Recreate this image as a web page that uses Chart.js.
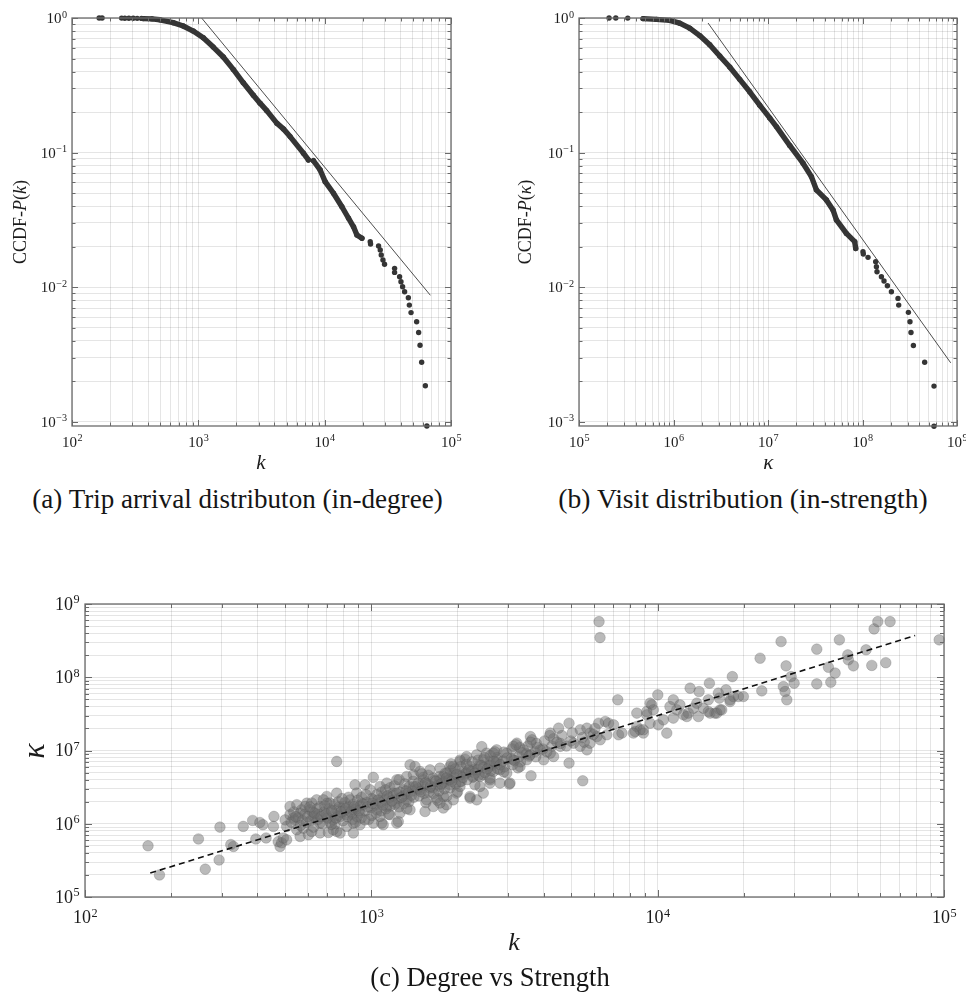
<!DOCTYPE html>
<html>
<head>
<meta charset="utf-8">
<title>Degree and strength distributions</title>
<script src="https://cdn.jsdelivr.net/npm/chart.js@4.4.0/dist/chart.umd.min.js"></script>
<style>
  body { margin: 0; background: #fff; width: 966px; height: 992px; position: relative; overflow: hidden; }
  canvas { position: absolute; }
  .caption {
    position: absolute; white-space: nowrap; color: #151515;
    font-family: "Liberation Serif", "DejaVu Serif", serif; font-size: 22px;
    transform: translate(-50%, -50%);
  }
</style>
</head>
<body>
<canvas id="inDegree" width="480" height="480" style="left:0;top:0"></canvas>
<canvas id="inStrength" width="486" height="480" style="left:480px;top:0"></canvas>
<canvas id="degStrength" width="966" height="432" style="left:0;top:560px"></canvas>

<div class="caption" data-fit="411" style="left:237.5px;top:499px">(a) Trip arrival distributon (in-degree)</div>
<div class="caption" data-fit="370" style="left:743px;top:499px">(b) Visit distribution (in-strength)</div>
<div class="caption" data-fit="240" style="left:490px;top:977px">(c) Degree vs Strength</div>

<script>
const SERIF = '"Liberation Serif", "DejaVu Serif", serif';
const INK = '#1c1c1c';
const DOT = '#353535';

// (a) CCDF of in-degree k  -- [k, P(k)]
const inDegreeTop = [[164, 1], [173, 0.999], [247, 0.998], [262, 0.997], [282, 0.996], [305, 0.995], [328, 0.994], [355, 0.993]];
const inDegreeBody = [[366, 0.99], [430, 0.985], [496, 0.97], [632, 0.923], [759, 0.872], [911, 0.80], [1094, 0.714],
  [1313, 0.608], [1576, 0.513], [1891, 0.415], [2270, 0.330], [2725, 0.267], [3079, 0.233], [3480, 0.205],
  [4178, 0.1655], [4713, 0.150], [5326, 0.1315], [6789, 0.099], [7438, 0.0882]];
const inDegreeBody2 = [[8151, 0.087], [9210, 0.0743], [10090, 0.0608], [11744, 0.0499], [13690, 0.0396],
  [15450, 0.0325], [16920, 0.0281], [18000, 0.0244], [19720, 0.0231]];
const inDegreeTail = [[22950, 0.02177], [23080, 0.02094], [26710, 0.02021], [27540, 0.01888], [28050, 0.01733],
  [28940, 0.01591], [29790, 0.01479], [35770, 0.0138], [35770, 0.01288], [39180, 0.01195], [40180, 0.01097],
  [41390, 0.01006], [42940, 0.00924], [45960, 0.00834], [46800, 0.00736], [48270, 0.00647], [53460, 0.00553],
  [55450, 0.00461], [56880, 0.0037], [58590, 0.00277], [62660, 0.00185], [64420, 0.00093]];
const inDegreeFit = [[1062, 1], [68700, 0.0087]];

// (b) CCDF of in-strength kappa  -- [kappa, P(kappa)]
const inStrengthTop = [[2.08e5, 1], [2.45e5, 0.999], [3.28e5, 0.998]];
const inStrengthBody = [[4.76e5, 0.99], [6.59e5, 0.976], [9.12e5, 0.96], [1.163e6, 0.915], [1.484e6, 0.84],
  [1.894e6, 0.74], [2.416e6, 0.632], [3.083e6, 0.522], [3.933e6, 0.432], [5.018e6, 0.35], [6.402e6, 0.283],
  [8.17e6, 0.225], [1.042e7, 0.181], [1.227e7, 0.156], [1.697e7, 0.113], [2.347e7, 0.0834], [2.88e7, 0.0663],
  [3.251e7, 0.0528], [4.15e7, 0.0445], [4.874e7, 0.0375], [5.294e7, 0.0316], [6.754e7, 0.0251],
  [8.27e7, 0.0218], [8.47e7, 0.0194]];
const inStrengthTail = [[1.012e8, 0.01834], [1.02e8, 0.01764], [1.144e8, 0.01666], [1.379e8, 0.01545],
  [1.403e8, 0.01418], [1.424e8, 0.01302], [1.585e8, 0.01195], [1.689e8, 0.0111], [1.834e8, 0.01024],
  [2.022e8, 0.00924], [2.375e8, 0.00825], [2.416e8, 0.00736], [3.059e8, 0.0065], [3.18e8, 0.00553],
  [3.26e8, 0.00461], [3.456e8, 0.00369], [4.55e8, 0.00277], [5.71e8, 0.00184], [5.71e8, 0.000925]];
const inStrengthFit = [[2.32e6, 0.918], [8.58e8, 0.00274]];

// (c) degree k vs strength kappa, one entry per station
const degreeStrength = [
  [166, 5.0e5], [182, 2.0e5], [249, 6.2e5], [263, 2.4e5], [296, 9.0e5], [294, 3.2e5], [323, 5.2e5], [330, 4.9e5],
  [357, 9.2e5], [385, 1.11e6], [408, 1.04e6], [418, 9.7e5], [395, 6.2e5], [429, 6.4e5], [457, 1.26e6], [455, 9.2e5],
  [473, 5.7e5], [480, 4.9e5], [486, 5.5e5], [493, 6.4e5], [506, 9.2e5], [520, 1.72e6], [549, 1.82e6], [534, 1.2e6],
  [571, 1.55e6], [595, 1.91e6], [564, 6.7e5], [603, 7.1e5], [644, 2.12e6], [662, 1.72e6], [627, 1.26e6],
  [662, 1.02e6], [662, 7.5e5], [708, 7.6e5], [757, 7.85e5], [699, 2.36e6], [757, 2.62e6], [757, 7.1e6],
  [865, 7.5e5], [877, 3.4e6], [950, 3.4e6], [1016, 4.3e6], [1087, 1.02e6], [1242, 1.07e6], [1365, 6.4e6],
  [1421, 6.05e6], [1540, 1.47e6], [1784, 1.64e6], [2212, 2.24e6], [2334, 2.12e6], [2460, 2.62e6],
  [2430, 1.13e7], [2125, 7.6e6],
  [500, 1.13e6], [520, 1.33e6], [541, 1.13e6], [564, 1.40e6], [587, 1.72e6], [611, 1.55e6], [636, 1.26e6],
  [619, 1.92e6], [549, 8.3e5], [579, 8.7e5], [619, 7.85e5], [506, 6.05e5],
  [680, 2.12e6], [717, 1.92e6], [757, 1.55e6], [798, 1.72e6], [843, 2.12e6], [889, 2.62e6], [926, 1.92e6],
  [698, 1.26e6], [736, 1.13e6], [778, 1.26e6], [820, 1.33e6], [865, 1.55e6], [913, 1.40e6], [736, 8.3e5],
  [778, 7.46e5], [820, 9.2e5], [865, 1.02e6], [913, 9.7e5], [950, 1.13e6], [725, 9.8e5],
  [990, 2.91e6], [1072, 3.23e6], [1132, 3.59e6], [1227, 3.98e6], [1329, 4.42e6], [1402, 4.66e6], [1016, 2.12e6],
  [1100, 2.36e6], [1191, 2.62e6], [1293, 2.91e6], [1402, 3.23e6], [1044, 1.55e6], [1132, 1.72e6], [1227, 1.92e6],
  [1329, 2.12e6], [1072, 1.26e6], [1161, 1.33e6], [1259, 1.40e6], [1365, 1.55e6], [1100, 9.7e5], [1227, 1.02e6],
  [1016, 1.02e6],
  [1479, 5.17e6], [1603, 5.45e6], [1737, 5.75e6], [1883, 6.05e6], [2040, 7.08e6], [1519, 3.98e6], [1646, 4.2e6],
  [1784, 4.42e6], [1934, 4.66e6], [2096, 5.17e6], [1479, 2.91e6], [1603, 3.07e6], [1737, 3.23e6], [1883, 3.4e6],
  [2040, 3.78e6], [1561, 2.12e6], [1691, 2.24e6], [1833, 2.36e6], [1986, 2.62e6], [1646, 1.72e6], [1833, 1.82e6],
  [2152, 8.28e6], [2333, 8.73e6], [2527, 9.2e6], [2739, 1.02e7], [2211, 6.05e6], [2395, 6.38e6], [2596, 7.08e6],
  [2270, 4.42e6], [2460, 4.66e6], [2667, 5.17e6], [2395, 3.23e6], [2596, 3.59e6],
  [3593, 1.55e7], [3642, 1.40e7], [4217, 1.73e7], [4509, 2.02e7], [5364, 1.92e7], [5662, 2.02e7], [5814, 1.73e7],
  [6136, 1.55e7], [6300, 1.40e7], [6561, 2.49e7], [6737, 2.36e7], [7015, 2.24e7], [7302, 1.64e7], [7504, 1.73e7],
  [5085, 1.26e7], [5364, 1.14e7], [5662, 1.02e7], [4571, 1.14e7], [4217, 9.2e6], [3890, 1.02e7], [3996, 7.46e6],
  [4329, 8.28e6], [3221, 1.26e7], [3397, 1.02e7], [2972, 9.2e6], [3133, 7.46e6], [3490, 7.46e6], [3306, 6.05e6],
  [3584, 8.73e6], [2667, 9.2e6], [2740, 7.46e6], [2460, 7.46e6], [2596, 6.05e6], [2814, 5.46e6], [2972, 4.92e6],
  [3050, 3.59e6], [2814, 3.59e6], [2596, 3.98e6], [2395, 4.42e6], [2270, 5.45e6], [2211, 2.36e6], [2040, 7.42e6],
  [1933, 6.05e6], [1833, 4.92e6], [1737, 3.98e6], [1883, 3.98e6], [2040, 3.23e6], [2152, 4.92e6], [1933, 2.12e6],
  [1784, 2.36e6], [1737, 1.92e6], [6220, 2.36e7], [6645, 1.64e7], [5808, 1.26e7], [3134, 1.14e7],
  [525, 1.05e6], [536, 1.45e6], [556, 1.2e6], [566, 9.5e5], [586, 1.35e6], [594, 1.05e6], [614, 1.1e6],
  [624, 1.45e6], [628, 9.0e5], [646, 1.6e6], [652, 1.15e6], [657, 1.35e6], [676, 1.0e6], [684, 1.45e6],
  [688, 1.75e6], [704, 1.2e6], [713, 1.6e6], [718, 1.05e6], [735, 1.4e6], [744, 1.85e6], [748, 1.0e6],
  [765, 1.3e6], [774, 1.7e6], [768, 2.0e6], [796, 1.1e6], [804, 1.5e6], [809, 1.95e6], [826, 1.25e6],
  [835, 1.7e6], [832, 2.3e6], [855, 1.35e6], [866, 1.85e6], [862, 1.15e6], [884, 1.6e6], [896, 2.1e6],
  [893, 1.25e6], [915, 1.75e6], [925, 2.3e6], [922, 1.2e6], [954, 1.5e6], [964, 1.95e6], [958, 2.5e6],
  [995, 1.65e6], [1006, 2.2e6], [1003, 1.3e6], [1034, 1.8e6], [1046, 2.5e6], [1041, 1.4e6], [1075, 1.95e6],
  [1086, 2.7e6], [1083, 1.5e6], [1114, 2.1e6], [1126, 1.6e6], [1121, 2.9e6], [1154, 2.25e6], [1166, 1.75e6],
  [1162, 3.1e6], [1194, 2.4e6], [1207, 1.85e6], [1203, 3.3e6], [1243, 2.2e6], [1256, 2.7e6], [1250, 1.7e6],
  [1292, 2.4e6], [1308, 3.5e6], [1300, 1.9e6], [1342, 2.6e6], [1358, 3.2e6], [1352, 2.0e6], [1393, 2.8e6],
  [1408, 2.3e6], [1400, 3.8e6], [1452, 3.0e6], [1468, 2.4e6], [1461, 3.6e6], [1512, 3.3e6], [1528, 2.6e6],
  [1520, 4.3e6], [1572, 3.5e6], [1588, 2.7e6], [1580, 4.6e6], [1641, 3.1e6], [1660, 3.9e6], [1650, 2.6e6],
  [1711, 3.4e6], [1730, 4.4e6], [1722, 2.8e6], [1790, 3.7e6], [1810, 4.9e6], [1800, 3.0e6], [1870, 4.0e6],
  [1890, 5.3e6], [1882, 3.1e6], [1950, 4.3e6], [1970, 3.5e6], [1961, 5.6e6], [2040, 4.6e6], [2062, 3.8e6],
  [2050, 6.0e6], [2138, 4.9e6], [2162, 4.0e6], [2150, 6.5e6], [2238, 5.2e6], [2262, 4.3e6], [2250, 7.0e6],
  [2348, 5.5e6], [2372, 4.6e6], [2360, 7.4e6], [2466, 5.9e6], [2494, 5.0e6], [2480, 8.0e6], [2586, 6.3e6],
  [2614, 5.3e6], [2600, 8.5e6], [2735, 6.8e6], [2765, 5.6e6], [2750, 8.0e6], [2884, 7.2e6], [2916, 6.0e6],
  [2900, 9.5e6], [3083, 7.7e6], [3117, 6.4e6], [3100, 1.05e7], [3282, 8.3e6], [3318, 7.0e6], [3300, 1.1e7],
  [3480, 9.0e6], [3520, 1.15e7], [3730, 9.6e6], [3770, 1.25e7], [3750, 8.2e6], [3975, 1.05e7], [4025, 1.35e7],
  [4270, 1.15e7], [4330, 1.45e7], [4570, 1.25e7], [4630, 1.6e7], [4970, 1.35e7], [5030, 1.75e7], [5460, 1.5e7],
  [5540, 1.3e7], [5960, 1.65e7], [6040, 2.0e7],
  [545, 1.25e6], [575, 1.1e6], [600, 1.25e6], [633, 1.4e6], [668, 1.25e6], [695, 1.35e6], [727, 1.5e6],
  [752, 1.2e6], [785, 1.45e6], [815, 1.6e6], [848, 1.45e6], [872, 1.7e6], [905, 1.5e6], [938, 1.85e6],
  [970, 1.7e6], [1010, 1.9e6], [1055, 2.1e6], [1098, 1.8e6], [1140, 2.4e6], [1180, 2.05e6], [1225, 2.6e6],
  [1275, 2.3e6], [1325, 2.8e6], [1380, 2.45e6], [1430, 3.2e6], [1490, 2.75e6], [1545, 3.6e6], [1610, 3.25e6],
  [1680, 3.8e6], [1755, 3.5e6], [1830, 4.2e6], [1910, 3.8e6], [1990, 4.7e6], [2090, 4.3e6], [2190, 5.4e6],
  [2300, 4.9e6], [2420, 6.2e6], [2540, 5.6e6], [2680, 7.1e6], [2820, 6.4e6], [2980, 7.9e6], [3160, 7.3e6],
  [3360, 9.3e6], [3560, 8.4e6], [3800, 1.1e7], [4100, 9.6e6], [4450, 1.3e7], [4800, 1.15e7],
  [610, 1.7e6], [700, 1.9e6], [790, 2.2e6], [880, 1.05e6], [980, 1.15e6], [1150, 1.35e6], [1330, 1.6e6],
  [1550, 1.95e6], [1700, 2.1e6], [2000, 2.75e6], [2300, 3.4e6], [2600, 4.2e6], [2900, 5.1e6], [3250, 5.8e6],
  [1250, 4.0e6], [1500, 4.8e6], [1900, 6.6e6], [2700, 9.6e6], [3200, 1.2e7], [3600, 1.3e7], [4200, 1.6e7],
  [6240, 5.75e8], [6290, 3.48e8], [7255, 4.92e7], [4903, 2.36e7], [4903, 6.73e6], [5474, 3.86e6], [3612, 4.52e6],
  [3034, 3.48e6], [10760, 1.727e7], [10010, 5.75e7], [9537, 4.2e7], [9660, 3.59e7], [9160, 3.07e7], [8455, 3.24e7],
  [8455, 2.13e7], [8915, 1.73e7], [8340, 1.82e7], [12980, 7.1e7], [13950, 6.38e7], [15160, 8.3e7], [11340, 4.92e7],
  [11660, 3.59e7], [12300, 3.07e7], [12800, 3.24e7], [13330, 3.78e7], [13870, 2.91e7], [15030, 4.92e7],
  [15240, 3.24e7], [15850, 3.24e7], [16520, 3.59e7], [16430, 5.19e7], [17330, 6.73e7], [17900, 4.92e7],
  [18380, 5.46e7], [19130, 5.46e7], [19920, 5.46e7], [18230, 1.02e8], [22790, 1.82e8], [23100, 6.52e7],
  [26980, 3.07e8], [28090, 1.43e8], [27480, 7.46e7], [27860, 6.38e7], [28250, 4.92e7], [29240, 1.02e8],
  [29960, 8.31e7], [35950, 2.42e8], [35950, 8.13e7], [39470, 1.37e8], [41660, 1.14e8], [40240, 8.57e7],
  [43110, 3.24e8], [46130, 2.02e8], [46330, 1.73e8], [48260, 1.43e8], [53430, 2.37e8], [55950, 1.45e8],
  [57000, 4.57e8], [58730, 5.75e8], [64820, 5.75e8], [62620, 1.58e8], [96200, 3.24e8],
  [9160, 3.4e7], [9410, 4.43e7], [8680, 1.92e7], [8225, 1.73e7], [8910, 1.92e7], [9410, 2.36e7], [10060, 2.24e7],
  [10470, 2.62e7], [11340, 2.77e7], [11040, 3.98e7], [11960, 4.2e7], [12640, 2.91e7], [13700, 4.43e7],
  [14440, 3.78e7], [15030, 3.4e7], [16090, 3.24e7], [16290, 6.07e7], [16740, 3.59e7], [17890, 4.66e7]
];
const degreeStrengthFit = [[169, 2.12e5], [79300, 3.71e8]];

// axis decades (exponents of the labelled ticks)
const degreeDecades = [2, 3, 4, 5];
const strengthDecades = [5, 6, 7, 8, 9];
const ccdfDecades = [-3, -2, -1, 0];

const toXY = pts => pts.map(([x, y]) => ({ x, y }));

function logTicks(decades) {
  const lo = decades[0], hi = decades[decades.length - 1];
  const ticks = [];
  for (let e = lo; e < hi; e++) {
    for (let m = 1; m < 10; m++) ticks.push({ value: m * Math.pow(10, e) });
  }
  ticks.push({ value: Math.pow(10, hi) });
  return ticks;
}

function logAxis(min, max, decades) {
  return {
    type: 'logarithmic', min, max,
    ticks: { display: false },
    grid: { color: 'rgba(0,0,0,0.1)', lineWidth: 1, drawTicks: false },
    border: { display: false },
    afterBuildTicks: s => { s.ticks = logTicks(decades); },
    afterFit: s => { if (s.isHorizontal()) s.height = 0; else s.width = 0; }
  };
}

const isDecade = v => Math.abs(Math.log10(v) - Math.round(Math.log10(v))) < 1e-6;

// "10" with a raised exponent, like the LaTeX tick labels
function powLabel(ctx, exp, x, y, size, align) {
  const sup = String(exp).replace('-', '\u2212');
  ctx.font = `${size}px ${SERIF}`;
  const wb = ctx.measureText('10').width;
  ctx.font = `${size * 0.68}px ${SERIF}`;
  const ws = ctx.measureText(sup).width;
  const x0 = align === 'right' ? x - wb - ws : x - (wb + ws) / 2;
  const base = y + size * 0.33;
  ctx.textAlign = 'left';
  ctx.textBaseline = 'alphabetic';
  ctx.font = `${size}px ${SERIF}`;
  ctx.fillText('10', x0, base);
  ctx.font = `${size * 0.68}px ${SERIF}`;
  ctx.fillText(sup, x0 + wb + 0.5, base - size * 0.36);
}

// text made of roman / italic runs, centred on (x, y)
function drawRuns(ctx, title) {
  const { runs, x, y, size, rotate } = title;
  const fonts = runs.map(r => `${r.it ? 'italic ' : ''}${size}px ${SERIF}`);
  let w = 0;
  const widths = runs.map((r, i) => { ctx.font = fonts[i]; const m = ctx.measureText(r.t).width; w += m; return m; });
  ctx.save();
  ctx.translate(x, y);
  if (rotate) ctx.rotate(-Math.PI / 2);
  ctx.textAlign = 'left';
  ctx.textBaseline = 'middle';
  let px = -w / 2;
  runs.forEach((r, i) => { ctx.font = fonts[i]; ctx.fillText(r.t, px, 0); px += widths[i]; });
  ctx.restore();
}

// box, inward ticks on four sides, tick labels and axis titles
const frame = {
  id: 'frame',
  afterDatasetsDraw(chart, args, o) {
    const { ctx, chartArea: a, scales } = chart;
    const line = (x1, y1, x2, y2) => { ctx.beginPath(); ctx.moveTo(x1, y1); ctx.lineTo(x2, y2); ctx.stroke(); };
    ctx.save();
    ctx.strokeStyle = '#6a6a6a';
    ctx.lineWidth = 1;
    scales.x.ticks.forEach(t => {
      const px = Math.round(scales.x.getPixelForValue(t.value)) + 0.5;
      const len = isDecade(t.value) ? o.major : o.minor;
      line(px, a.bottom, px, a.bottom - len);
      line(px, a.top, px, a.top + len);
    });
    scales.y.ticks.forEach(t => {
      const py = Math.round(scales.y.getPixelForValue(t.value)) + 0.5;
      const len = isDecade(t.value) ? o.major : o.minor;
      line(a.left, py, a.left + len, py);
      line(a.right, py, a.right - len, py);
    });
    ctx.lineWidth = 1.3;
    ctx.strokeRect(a.left, a.top, a.right - a.left, a.bottom - a.top);

    ctx.fillStyle = INK;
    o.xDecades.forEach(e => powLabel(ctx, e, scales.x.getPixelForValue(Math.pow(10, e)), a.bottom + o.xGap, o.font, 'center'));
    o.yDecades.forEach(e => powLabel(ctx, e, a.left - o.yGap, scales.y.getPixelForValue(Math.pow(10, e)), o.font, 'right'));
    drawRuns(ctx, o.xTitle);
    drawRuns(ctx, o.yTitle);
    ctx.restore();
  }
};

const dots = pts => ({
  data: toXY(pts), showLine: false, pointRadius: 2.7,
  pointBackgroundColor: DOT, pointBorderWidth: 0, clip: false
});
const band = pts => ({
  data: toXY(pts), showLine: true, borderColor: DOT, borderWidth: 5.4,
  borderCapStyle: 'round', borderJoinStyle: 'round',
  pointRadius: 2.7, pointBackgroundColor: DOT, pointBorderWidth: 0, clip: false
});
const fitLine = (pts, dashed) => ({
  data: toXY(pts), showLine: true, pointRadius: 0,
  borderColor: dashed ? '#111' : '#3a3a3a', borderWidth: dashed ? 1.6 : 0.9,
  borderDash: dashed ? [6, 4] : []
});

function makeChart(id, datasets, scales, padding, frameOpts) {
  return new Chart(document.getElementById(id), {
    type: 'scatter',
    data: { datasets },
    options: {
      responsive: false, animation: false, devicePixelRatio: 1, events: [],
      layout: { padding },
      scales,
      plugins: { legend: { display: false }, tooltip: { enabled: false }, frame: frameOpts }
    },
    plugins: [frame]
  });
}

const ccdfTitle = (sym, x) => ({
  runs: [{ t: 'CCDF-' }, { t: 'P', it: true }, { t: '(' }, { t: sym, it: true }, { t: ')' }],
  x, y: 222, size: 18, rotate: true
});

makeChart('inDegree',
  [fitLine(inDegreeFit), dots(inDegreeTop), band(inDegreeBody), band(inDegreeBody2), dots(inDegreeTail)],
  { x: logAxis(1e2, 1e5, degreeDecades), y: logAxis(0.00093, 1, ccdfDecades) },
  { left: 72, top: 18, right: 29, bottom: 54 },
  { major: 6, minor: 3.5, font: 15, xGap: 15.7, yGap: 5.5, xDecades: degreeDecades, yDecades: ccdfDecades,
    xTitle: { runs: [{ t: 'k', it: true }], x: 261, y: 463, size: 21 },
    yTitle: ccdfTitle('k', 21.7) });

makeChart('inStrength',
  [fitLine(inStrengthFit), dots(inStrengthTop), band(inStrengthBody), dots(inStrengthTail)],
  { x: logAxis(1e5, 1e9, strengthDecades), y: logAxis(0.00093, 1, ccdfDecades) },
  { left: 99, top: 18, right: 9, bottom: 54 },
  { major: 6, minor: 3.5, font: 15, xGap: 15.7, yGap: 5.5, xDecades: strengthDecades, yDecades: ccdfDecades,
    xTitle: { runs: [{ t: '\u03ba', it: true }], x: 288.3, y: 463, size: 21 },
    yTitle: ccdfTitle('\u03ba', 46.7) });

makeChart('degStrength',
  [fitLine(degreeStrengthFit, true), {
    data: toXY(degreeStrength), showLine: false, pointRadius: 5.3,
    pointBackgroundColor: 'rgba(110,110,110,0.48)', pointBorderColor: 'rgba(80,80,80,0.3)', pointBorderWidth: 0.8,
    clip: false
  }],
  { x: logAxis(1e2, 1e5, degreeDecades), y: logAxis(1e5, 1e9, strengthDecades) },
  { left: 85, top: 44, right: 22, bottom: 95 },
  { major: 7, minor: 4, font: 18, xGap: 20.2, yGap: 6, xDecades: degreeDecades, yDecades: strengthDecades,
    xTitle: { runs: [{ t: 'k', it: true }], x: 514, y: 383, size: 26 },
    yTitle: { runs: [{ t: '\u03ba', it: true }], x: 36, y: 191, size: 32, rotate: true } });

// scale the captions to the printed width
document.querySelectorAll('.caption').forEach(el => {
  const target = parseFloat(el.dataset.fit);
  el.style.fontSize = (22 * target / el.offsetWidth) + 'px';
});
</script>
</body>
</html>
